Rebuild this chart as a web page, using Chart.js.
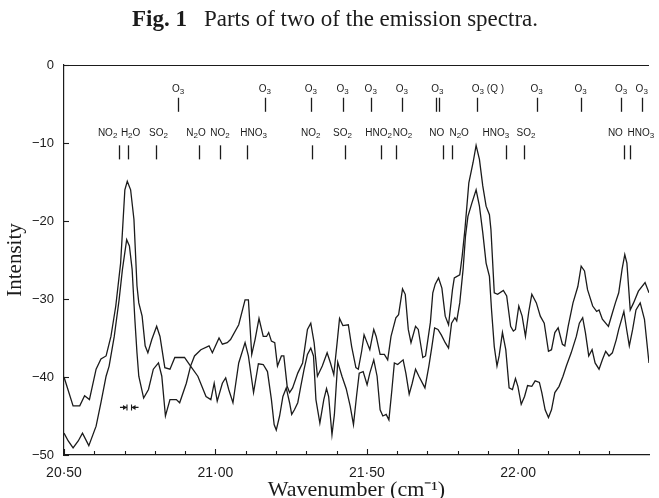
<!DOCTYPE html>
<html>
<head>
<meta charset="utf-8">
<script src="https://cdn.jsdelivr.net/npm/chart.js@4.4.1/dist/chart.umd.min.js"></script>
<style>
  html, body { margin: 0; padding: 0; background: #fff; }
</style>
</head>
<body>
<canvas id="spectra" width="659" height="498"></canvas>
<script>
// spectrum A: starts near -40, peaks at 20.71 and 21.86
var waveA = [20.500, 20.530, 20.552, 20.568, 20.584, 20.606, 20.622, 20.639, 20.655, 20.671, 20.687, 20.701, 20.709, 20.720, 20.731, 20.741, 20.747, 20.758, 20.768, 20.777,
  20.790, 20.806, 20.817, 20.833, 20.850, 20.866, 20.898, 20.918, 20.942, 20.969, 20.985, 20.996, 21.006, 21.023, 21.034, 21.044, 21.058, 21.077, 21.098, 21.109,
  21.126, 21.142, 21.158, 21.172, 21.185, 21.194, 21.201, 21.212, 21.223, 21.234, 21.245, 21.252, 21.261, 21.272, 21.282, 21.293, 21.304, 21.315, 21.324, 21.332,
  21.345, 21.358, 21.367, 21.374, 21.385, 21.393, 21.404, 21.418, 21.432, 21.445, 21.456, 21.466, 21.475, 21.488, 21.501, 21.510, 21.523, 21.534, 21.544, 21.553,
  21.564, 21.573, 21.583, 21.591, 21.602, 21.620, 21.629, 21.640, 21.650, 21.661, 21.672, 21.692, 21.705, 21.715, 21.724, 21.735, 21.746, 21.759, 21.770, 21.780,
  21.791, 21.797, 21.807, 21.818, 21.826, 21.834, 21.847, 21.861, 21.872, 21.883, 21.894, 21.905, 21.912, 21.921, 21.930, 21.937, 21.948, 21.959, 21.970, 21.981,
  21.991, 21.999, 22.010, 22.021, 22.031, 22.045, 22.056, 22.070, 22.078, 22.089, 22.100, 22.110, 22.121, 22.135, 22.148, 22.159, 22.175, 22.192, 22.202, 22.213,
  22.222, 22.233, 22.244, 22.254, 22.267, 22.278, 22.289, 22.300, 22.311, 22.324, 22.332, 22.349, 22.359, 22.367, 22.378, 22.389, 22.403, 22.417, 22.432];
var intensityA = [-40.0, -43.7, -43.7, -42.4, -42.9, -39.0, -37.7, -37.3, -34.8, -30.9, -25.4, -16.0, -14.9, -16.0, -19.8, -28.3, -30.5, -32.2, -36.0, -36.9,
  -35.2, -33.5, -34.8, -38.8, -39.0, -37.5, -37.5, -38.6, -39.9, -42.5, -42.9, -40.8, -43.1, -40.8, -40.1, -41.6, -43.3, -38.2, -35.6, -37.3,
  -42.0, -38.3, -38.4, -39.3, -42.9, -46.1, -46.8, -45.0, -42.5, -41.4, -43.3, -44.8, -44.2, -43.3, -41.2, -39.0, -37.1, -36.3, -37.3, -42.9,
  -45.9, -42.9, -41.5, -42.5, -47.4, -44.8, -38.1, -39.9, -41.5, -43.7, -46.1, -42.5, -39.5, -39.3, -41.0, -39.5, -37.8, -39.9, -44.2, -45.0,
  -44.8, -45.5, -41.6, -38.2, -38.4, -37.8, -39.5, -42.2, -40.8, -39.0, -39.9, -41.4, -38.6, -36.1, -33.7, -33.9, -34.6, -35.6, -36.3, -33.1,
  -32.4, -32.8, -30.5, -26.2, -21.9, -19.4, -17.7, -16.0, -18.1, -21.5, -25.4, -27.1, -31.4, -36.1, -38.6, -37.3, -34.3, -36.5, -41.4, -41.6,
  -40.2, -41.2, -43.5, -42.5, -41.1, -41.2, -40.5, -40.7, -42.0, -44.2, -45.2, -44.2, -42.0, -41.2, -39.9, -38.6, -36.9, -34.8, -33.1, -32.4,
  -34.3, -37.3, -36.5, -38.2, -39.0, -37.8, -36.7, -37.3, -36.9, -35.2, -33.9, -31.6, -34.1, -36.0, -33.9, -31.4, -30.5, -32.6, -38.2];

// spectrum B: starts near -47, peaks at 20.71 and 21.86 (the tallest)
var waveB = [20.500, 20.514, 20.530, 20.547, 20.561, 20.582, 20.606, 20.622, 20.639, 20.649, 20.666, 20.682, 20.693, 20.707, 20.716, 20.725, 20.734, 20.741, 20.747, 20.763,
  20.779, 20.795, 20.812, 20.823, 20.835, 20.850, 20.871, 20.882, 20.904, 20.918, 20.931, 20.952, 20.979, 20.990, 21.012, 21.023, 21.039, 21.050, 21.077, 21.098,
  21.109, 21.120, 21.131, 21.144, 21.158, 21.169, 21.176, 21.185, 21.196, 21.205, 21.218, 21.226, 21.237, 21.245, 21.255, 21.272, 21.288, 21.304, 21.315, 21.326,
  21.337, 21.353, 21.369, 21.380, 21.391, 21.402, 21.410, 21.421, 21.439, 21.450, 21.464, 21.472, 21.483, 21.491, 21.499, 21.510, 21.523, 21.531, 21.544, 21.558,
  21.569, 21.580, 21.596, 21.605, 21.618, 21.627, 21.637, 21.646, 21.661, 21.670, 21.685, 21.694, 21.710, 21.718, 21.726, 21.737, 21.748, 21.759, 21.770, 21.783,
  21.789, 21.807, 21.815, 21.824, 21.837, 21.851, 21.861, 21.872, 21.883, 21.894, 21.905, 21.910, 21.921, 21.932, 21.951, 21.962, 21.975, 21.984, 21.991, 22.002,
  22.013, 22.024, 22.035, 22.045, 22.060, 22.073, 22.086, 22.100, 22.110, 22.121, 22.132, 22.146, 22.154, 22.165, 22.181, 22.197, 22.208, 22.219, 22.229, 22.246,
  22.259, 22.267, 22.278, 22.298, 22.311, 22.321, 22.332, 22.343, 22.352, 22.359, 22.370, 22.381, 22.397, 22.419, 22.432];
var intensityB = [-47.2, -48.2, -49.1, -48.2, -47.2, -48.8, -46.3, -43.3, -39.9, -38.6, -34.8, -30.1, -26.2, -22.4, -23.2, -26.2, -32.6, -36.9, -39.9, -42.7,
  -41.6, -39.0, -38.2, -39.9, -45.0, -42.9, -42.9, -43.3, -40.8, -38.6, -37.3, -36.5, -36.0, -36.9, -35.0, -35.8, -35.6, -35.2, -33.3, -30.1,
  -30.1, -37.1, -35.2, -32.5, -34.8, -34.8, -34.3, -35.4, -35.6, -38.6, -37.3, -37.3, -41.2, -42.0, -41.4, -39.5, -38.2, -33.9, -33.1, -35.6,
  -39.9, -38.6, -36.9, -38.2, -39.7, -35.6, -32.5, -33.4, -33.3, -36.1, -38.8, -39.0, -36.7, -34.6, -35.4, -36.5, -33.9, -34.8, -37.1, -37.1,
  -37.8, -34.8, -32.4, -32.0, -28.7, -29.4, -33.9, -35.6, -33.5, -33.9, -37.5, -37.3, -33.0, -29.2, -28.1, -27.3, -28.6, -32.2, -33.3, -28.8,
  -27.3, -26.9, -24.5, -21.1, -15.1, -12.5, -10.3, -12.1, -15.5, -18.1, -19.2, -21.1, -29.2, -29.4, -28.9, -29.6, -33.5, -34.1, -33.9, -30.9,
  -32.2, -34.8, -31.6, -29.4, -30.5, -32.2, -33.1, -36.7, -36.5, -34.3, -33.7, -35.8, -36.0, -33.5, -30.5, -28.4, -25.8, -26.4, -28.8, -30.9,
  -31.6, -31.4, -32.6, -33.5, -31.8, -30.5, -29.2, -26.2, -24.3, -25.4, -31.4, -30.5, -29.0, -27.9, -29.2];

// line identifications, upper row (ozone)
var rowOneNames = ['O3', 'O3', 'O3', 'O3', 'O3', 'O3', 'O3', 'O3 (Q )', 'O3', 'O3', 'O3', 'O3'];
var rowOneAt = [20.877, 21.163, 21.315, 21.420, 21.513, 21.616, 21.733, 21.900, 22.061, 22.206, 22.340, 22.408];
var rowOneMarks = [[20.877], [21.163], [21.315], [21.420], [21.513], [21.616], [21.730, 21.737], [21.864], [22.061], [22.206], [22.340], [22.408]];

// line identifications, lower row
var rowTwoNames = ['NO2', 'H2O', 'SO2', 'N2O', 'NO2', 'HNO3', 'NO2', 'SO2', 'HNO2', 'NO2', 'NO', 'N2O', 'HNO3', 'SO2', 'NO', 'HNO3'];
var rowTwoAt = [20.644, 20.720, 20.812, 20.936, 21.015, 21.126, 21.315, 21.420, 21.539, 21.618, 21.731, 21.805, 21.926, 22.026, 22.321, 22.405];
var rowTwoMarks = [[20.682], [20.712], [20.804], [20.947], [21.015], [21.104], [21.318], [21.429], [21.548], [21.597], [21.753], [21.780], [21.961], [22.020], [22.348], [22.370]];

// instrument resolution bar
var resolutionBar = [20.708, 20.723];
var resolutionLevel = -43.9;

var xTicksEvery = 0.1;
var yTicks = [0, -10, -20, -30, -40, -50];

var ink = '#1b1b1b';
var sans = '"Liberation Sans", Arial, sans-serif';
var serif = '"Liberation Serif", "Times New Roman", serif';

function toPoints(xs, ys) {
  return xs.map(function (x, i) { return { x: x, y: ys[i] }; });
}

function drawFormula(ctx, text, cx, cy, size) {
  var big = size + 'px ' + sans;
  var small = Math.round(size * 0.75) + 'px ' + sans;
  var pieces = [], total = 0;
  for (var i = 0; i < text.length; i++) {
    var ch = text[i], sub = /[0-9]/.test(ch);
    ctx.font = sub ? small : big;
    var w = ctx.measureText(ch).width;
    pieces.push({ ch: ch, sub: sub, w: w });
    total += w;
  }
  var x = cx - total / 2;
  ctx.textAlign = 'left';
  ctx.textBaseline = 'middle';
  pieces.forEach(function (p) {
    ctx.font = p.sub ? small : big;
    ctx.fillText(p.ch, x, p.sub ? cy + size * 0.3 : cy);
    x += p.w;
  });
}

function drawRow(ctx, xs, ys, names, at, marks, lv) {
  var ly = ys.getPixelForValue(lv.label);
  var t = ys.getPixelForValue(lv.top), b = ys.getPixelForValue(lv.bottom);
  names.forEach(function (n, i) {
    drawFormula(ctx, n, xs.getPixelForValue(at[i]), ly, 10);
    marks[i].forEach(function (m) {
      var px = Math.round(xs.getPixelForValue(m)) + 0.5;
      ctx.beginPath();
      ctx.moveTo(px, t);
      ctx.lineTo(px, b);
      ctx.stroke();
    });
  });
}

var decorations = {
  id: 'decorations',
  afterDraw: function (chart) {
    var ctx = chart.ctx, xs = chart.scales.x, ys = chart.scales.y, area = chart.chartArea;
    ctx.save();
    ctx.strokeStyle = ink;
    ctx.fillStyle = ink;
    ctx.lineWidth = 1.1;

    // frame top
    ctx.beginPath();
    ctx.moveTo(area.left, area.top + 0.5);
    ctx.lineTo(area.right, area.top + 0.5);
    ctx.stroke();

    // inward ticks
    xs.ticks.forEach(function (tk) {
      var k = tk.value / xTicksEvery;
      if (Math.abs(k - Math.round(k)) > 1e-6) return;
      var px = Math.round(xs.getPixelForValue(tk.value)) + 0.5;
      var len = Math.round(k) % 5 === 0 ? 6 : 4;
      ctx.beginPath();
      ctx.moveTo(px, area.bottom);
      ctx.lineTo(px, area.bottom - len);
      ctx.stroke();
    });
    yTicks.forEach(function (v) {
      var py = Math.round(ys.getPixelForValue(v)) + 0.5;
      ctx.beginPath();
      ctx.moveTo(area.left, py);
      ctx.lineTo(area.left + 5, py);
      ctx.stroke();
    });

    // identifications
    ctx.lineWidth = 1.3;
    drawRow(ctx, xs, ys, rowOneNames, rowOneAt, rowOneMarks, { label: -3.1, top: -4.2, bottom: -6.0 });
    drawRow(ctx, xs, ys, rowTwoNames, rowTwoAt, rowTwoMarks, { label: -8.7, top: -10.3, bottom: -12.1 });

    // resolution marker
    ctx.lineWidth = 1.1;
    var yr = ys.getPixelForValue(resolutionLevel);
    var l = xs.getPixelForValue(resolutionBar[0]), r = xs.getPixelForValue(resolutionBar[1]);
    ctx.beginPath();
    ctx.moveTo(l - 7, yr); ctx.lineTo(l, yr);
    ctx.moveTo(l, yr - 3); ctx.lineTo(l, yr + 3);
    ctx.moveTo(r + 7, yr); ctx.lineTo(r, yr);
    ctx.moveTo(r, yr - 3); ctx.lineTo(r, yr + 3);
    ctx.stroke();
    ctx.beginPath();
    ctx.moveTo(l, yr); ctx.lineTo(l - 4, yr - 2.5); ctx.lineTo(l - 4, yr + 2.5); ctx.closePath();
    ctx.moveTo(r, yr); ctx.lineTo(r + 4, yr - 2.5); ctx.lineTo(r + 4, yr + 2.5); ctx.closePath();
    ctx.fill();

    // caption
    var bold = 'bold 23px ' + serif, plain = '23px ' + serif;
    var head = 'Fig. 1', rest = 'Parts of two of the emission spectra.', gap = 17;
    ctx.font = bold;
    var w1 = ctx.measureText(head).width;
    ctx.font = plain;
    var w2 = ctx.measureText(rest).width;
    var x0 = 335 - (w1 + gap + w2) / 2;
    ctx.textAlign = 'left';
    ctx.textBaseline = 'alphabetic';
    ctx.font = bold;
    ctx.fillText(head, x0, 26);
    ctx.font = plain;
    ctx.fillText(rest, x0 + w1 + gap, 26);
    ctx.restore();
  }
};

new Chart(document.getElementById('spectra'), {
  type: 'line',
  data: {
    datasets: [
      { data: toPoints(waveA, intensityA), borderColor: ink, borderWidth: 1.3, pointRadius: 0, tension: 0, fill: false },
      { data: toPoints(waveB, intensityB), borderColor: ink, borderWidth: 1.3, pointRadius: 0, tension: 0, fill: false }
    ]
  },
  options: {
    responsive: false,
    animation: false,
    layout: { padding: { top: 65, right: 0, bottom: 0, left: 0 } },
    plugins: { legend: { display: false }, tooltip: { enabled: false } },
    scales: {
      x: {
        type: 'linear',
        min: 20.5,
        max: 22.432,
        ticks: {
          stepSize: xTicksEvery,
          autoSkip: false,
          maxRotation: 0,
          padding: 10,
          color: ink,
          font: { family: sans, size: 14 },
          callback: function (v) {
            var k = Math.round(v * 10);
            if (Math.abs(v * 10 - k) > 1e-6 || k % 5 !== 0) return '';
            return v.toFixed(2).replace('.', '\u00b7');
          }
        },
        grid: { display: true, drawOnChartArea: false, drawTicks: false },
        border: { display: true, color: ink, width: 1.2 },
        title: {
          display: true,
          text: 'Wavenumber (cm\u207b\u00b9)',
          color: ink,
          font: { family: serif, size: 22, lineHeight: 1 },
          padding: { top: 0, bottom: -3 }
        },
        afterFit: function (s) { s.height = 43; }
      },
      y: {
        min: -50,
        max: 0,
        ticks: {
          stepSize: 10,
          padding: 10,
          color: ink,
          font: { family: sans, size: 13 },
          callback: function (v) { return v < 0 ? '\u2212' + Math.abs(v) : String(v); }
        },
        grid: { display: true, drawOnChartArea: false, drawTicks: false },
        border: { display: true, color: ink, width: 1.2 },
        title: {
          display: true,
          text: 'Intensity',
          color: ink,
          font: { family: serif, size: 21, lineHeight: 1 },
          padding: { top: 5, bottom: 0 }
        },
        afterFit: function (s) { s.width = 64; }
      }
    }
  },
  plugins: [decorations]
});
</script>
</body>
</html>
